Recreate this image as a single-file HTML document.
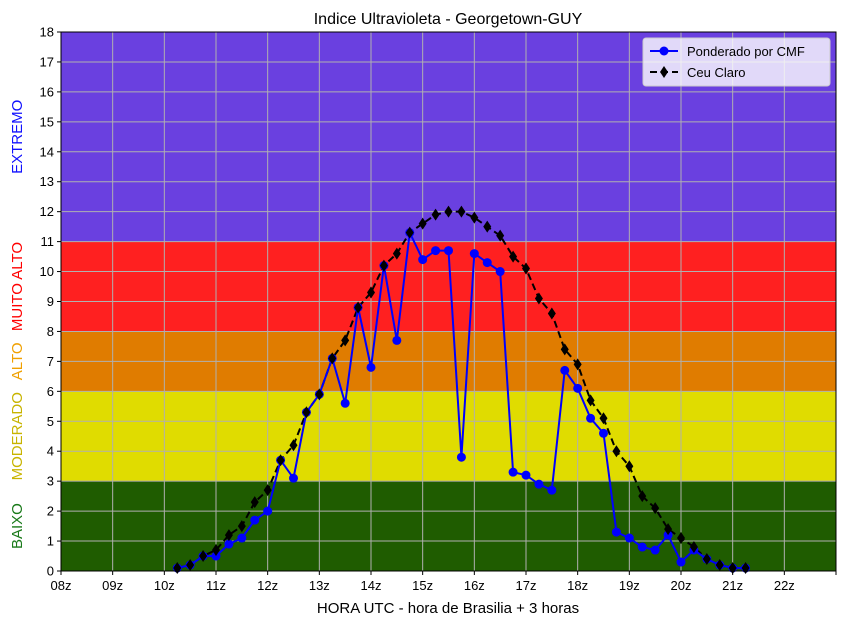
<!DOCTYPE html>
<html><head><meta charset="utf-8"><style>
body{margin:0;background:#fff;font-family:"Liberation Sans","DejaVu Sans",sans-serif}
</style></head><body>
<svg id="chart" width="849" height="625" xmlns="http://www.w3.org/2000/svg" font-family="Liberation Sans, DejaVu Sans, sans-serif">
<g id="bands"></g><g id="grid"></g><g id="series"></g><g id="axes"></g>
</svg>
<script>
const xTickLabels=["08z","09z","10z","11z","12z","13z","14z","15z","16z","17z","18z","19z","20z","21z","22z",""];
const yTicks=[0,1,2,3,4,5,6,7,8,9,10,11,12,13,14,15,16,17,18];
const startHour=10.25, stepHour=0.25;
const clearSky=[0.1,0.2,0.5,0.7,1.2,1.5,2.3,2.7,3.7,4.2,5.3,5.9,7.1,7.7,8.8,9.3,10.2,10.6,11.3,11.6,11.9,12.0,12.0,11.8,11.5,11.2,10.5,10.1,9.1,8.6,7.4,6.9,5.7,5.1,4.0,3.5,2.5,2.1,1.4,1.1,0.8,0.4,0.2,0.1,0.1];
const cmf=[0.1,0.2,0.5,0.5,0.9,1.1,1.7,2.0,3.7,3.1,5.3,5.9,7.1,5.6,8.8,6.8,10.2,7.7,11.3,10.4,10.7,10.7,3.8,10.6,10.3,10.0,3.3,3.2,2.9,2.7,6.7,6.1,5.1,4.6,1.3,1.1,0.8,0.7,1.2,0.3,0.7,0.4,0.2,0.1,0.1];
const bandLimits=[0,3,6,8,11,18];
const bandColors=["#1f5c00","#e0dc00","#e07c00","#ff2020","#6a40e0"];
const bandNames=["BAIXO","MODERADO","ALTO","MUITO ALTO","EXTREMO"];
const bandTextColors=["#1a7a1a","#c8b400","#f0a000","#ff0000","#1010ff"];
const L=61,R=836,T=32,B=571;
const X=h=>L+(h-8)*(R-L)/15;
const Y=v=>B-v*(B-T)/18;
const NS="http://www.w3.org/2000/svg";
function mk(p,t,a){const e=document.createElementNS(NS,t);for(const k in a)e.setAttribute(k,a[k]);p.appendChild(e);return e;}
const bands=document.getElementById('bands'),grid=document.getElementById('grid'),ser=document.getElementById('series'),ax=document.getElementById('axes');
for(let i=0;i<bandColors.length;i++){
 const r=mk(bands,'rect',{x:L,y:Y(bandLimits[i+1]),width:R-L,height:Y(bandLimits[i])-Y(bandLimits[i+1]),fill:bandColors[i]});
 
 
 const cy=(Y(bandLimits[i])+Y(bandLimits[i+1]))/2;
 const t=mk(ax,'text',{x:0,y:0,transform:`translate(22,${cy}) rotate(-90)`,'text-anchor':'middle','font-size':15,fill:bandTextColors[i]});
 t.textContent=bandNames[i];
 
 
}
xTickLabels.forEach((lab,i)=>{const x=X(8+i);
 mk(grid,'line',{x1:x,x2:x,y1:T,y2:B,stroke:'#b0b0b0','stroke-width':1});
 mk(ax,'line',{x1:x,x2:x,y1:B,y2:B+4,stroke:'#000'});
 const t=mk(ax,'text',{x:x,y:B+19,'text-anchor':'middle','font-size':13});t.textContent=lab;
 
 
});
yTicks.forEach(v=>{const y=Y(v);
 mk(grid,'line',{x1:L,x2:R,y1:y,y2:y,stroke:'#b0b0b0','stroke-width':1});
 mk(ax,'line',{x1:L-4,x2:L,y1:y,y2:y,stroke:'#000'});
 const t=mk(ax,'text',{x:L-7,y:y+4.5,'text-anchor':'end','font-size':13});t.textContent=v;
 
 
});
mk(ax,'rect',{x:L,y:T,width:R-L,height:B-T,fill:'none',stroke:'#000','stroke-width':1});
const px=i=>X(startHour+i*stepHour);
const bl=mk(ser,'polyline',{points:clearSky.map((v,i)=>px(i)+','+Y(v)).join(' '),fill:'none',stroke:'#000','stroke-width':2,'stroke-dasharray':'7,4'});


const bu=mk(ser,'polyline',{points:cmf.map((v,i)=>px(i)+','+Y(v)).join(' '),fill:'none',stroke:'#0000ff','stroke-width':2});


cmf.forEach((v,i)=>{const c=mk(ser,'circle',{cx:px(i),cy:Y(v),r:4.5,fill:'#0000ff'});
 
 });
clearSky.forEach((v,i)=>{const x=px(i),y=Y(v);const d=mk(ser,'polygon',{points:`${x},${y-6} ${x+4},${y} ${x},${y+6} ${x-4},${y}`,fill:'#000'});
 
 });
// legend
const lg=mk(ax,'g',{});


mk(lg,'rect',{x:643,y:38,width:187,height:48,rx:3,fill:'#ffffff','fill-opacity':0.8,stroke:'#ccc'});
mk(lg,'line',{x1:650,x2:678,y1:51,y2:51,stroke:'#0000ff','stroke-width':2});
mk(lg,'circle',{cx:664,cy:51,r:4.5,fill:'#0000ff'});
const t1=mk(lg,'text',{x:687,y:56,'font-size':13});t1.textContent='Ponderado por CMF';
mk(lg,'line',{x1:650,x2:678,y1:72,y2:72,stroke:'#000','stroke-width':2,'stroke-dasharray':'7,4'});
mk(lg,'polygon',{points:'664,66 668,72 664,78 660,72',fill:'#000'});
const t2=mk(lg,'text',{x:687,y:77,'font-size':13});t2.textContent='Ceu Claro';
const tt=mk(ax,'text',{x:448,y:24,'text-anchor':'middle','font-size':16});tt.textContent='Indice Ultravioleta - Georgetown-GUY';


const xt=mk(ax,'text',{x:448,y:613,'text-anchor':'middle','font-size':15});xt.textContent='HORA UTC - hora de Brasilia + 3 horas';


</script>
</body></html>
